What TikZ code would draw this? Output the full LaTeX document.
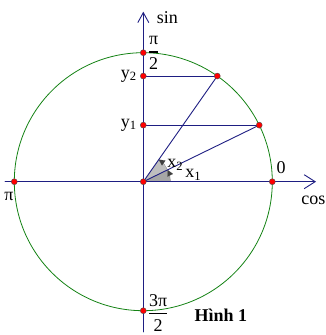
\documentclass[tikz,border=0pt]{standalone}
\usepackage{amsmath}
\usepackage{fontspec}
\setmainfont{Liberation Serif}
\usetikzlibrary{arrows.meta}

\definecolor{axisblue}{RGB}{30,30,130}
\definecolor{circgreen}{RGB}{20,130,20}

\begin{document}
\begin{tikzpicture}[x=1pt,y=1pt,line cap=round,line join=round,
  every node/.style={font=\fontsize{18}{20}\selectfont},
  axis/.style={axisblue,line width=0.9pt},
  dot/.style={circle,fill=red,draw=black!70,line width=0.4pt,inner sep=0pt,minimum size=6pt},
  angarrow/.style={black!75,line width=0.1pt,-{Triangle[length=6pt,width=6pt]}}]
  \useasboundingbox (-143.3,-153.3) rectangle (182.7,181.7);
  % points on the circle
  \coordinate (O) at (0,0);
  \coordinate (P1) at (26:129);
  \coordinate (P2) at (55:129);
  \coordinate (Y1) at (0,{129*sin(26)});
  \coordinate (Y2) at (0,{129*sin(55)});
  \coordinate (E) at (129,0);
  \coordinate (N) at (0,129);
  \coordinate (W) at (-129,0);
  \coordinate (S) at (0,-129);
  % angles
  \fill[gray!50] (O) -- (27,0) arc[start angle=0,end angle=55,radius=27] -- cycle;
  \fill[gray!70] (O) -- (27,0) arc[start angle=0,end angle=26,radius=27] -- cycle;
  \draw[angarrow] (26:27) arc[start angle=26,end angle=55,radius=27];
  \draw[angarrow] (0:27) arc[start angle=0,end angle=26,radius=27];
  % axes and circle
  \draw[circgreen,line width=0.8pt] (O) circle (129);
  \coordinate (xl) at (-138.3,0);
  \coordinate (xr) at (172.7,0);
  \coordinate (yb) at (0,-150.3);
  \coordinate (yt) at (0,170);
  \draw[axis,-{Straight Barb[length=11pt,width=14pt]}] (xl) -- (xr);
  \draw[axis,-{Straight Barb[length=10pt,width=11pt]}] (yb) -- (yt);
  \draw[axis] (O) -- (P1);
  \draw[axis] (O) -- (P2);
  \draw[axis] (Y1) -- (P1);
  \draw[axis] (Y2) -- (P2);
  % dots
  \foreach \p in {O,P1,P2,Y1,Y2,E,N,W,S}
    \node[dot] (d\p) at (\p) {};
  % labels
  \node[anchor=west] (lsin) at (10,164) {sin};
  \node[anchor=base east,inner sep=0pt] (lcos) at (182.3,-22.3) {cos};
  \node (lzero) at (137.7,14.5) {0};
  \node (lpi) at (-134.3,-14.3) {π};
  \node[anchor=east] (ly1) at (-3,{129*sin(26)}) {y\textsubscript{1}};
  \node[anchor=east] (ly2) at (-3,{129*sin(55)}) {y\textsubscript{2}};
  \node (lx2) at (32,17) {x\textsubscript{2}};
  \node (lx1) at (50,7) {x\textsubscript{1}};
  \node[anchor=west] (lhalf) at (1,128.7) {$\genfrac{}{}{1.6pt}{0}{\mbox{π}}{\mbox{2}}$};
  \node[anchor=west] (lthree) at (1,-131) {$\genfrac{}{}{1.6pt}{0}{\mbox{3π}}{\mbox{2}}$};
  \node[font=\fontsize{18}{20}\selectfont\bfseries] (lfig) at (77.5,-134) {Hình 1};
\end{tikzpicture}
\end{document}
